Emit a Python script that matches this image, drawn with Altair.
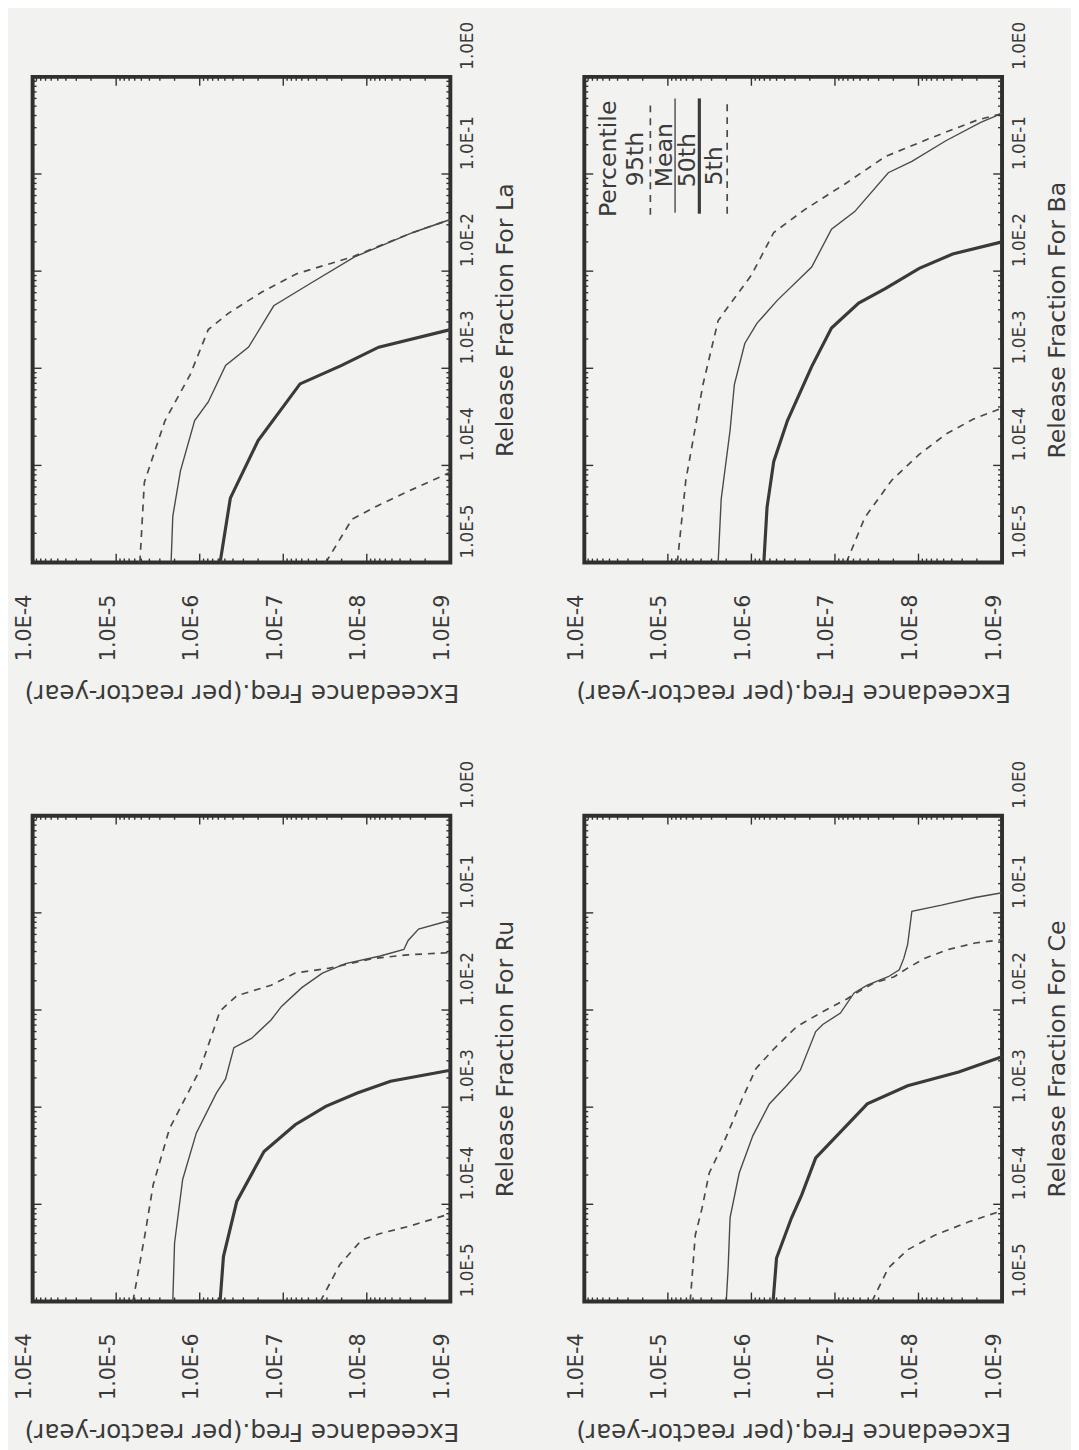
import altair as alt
import pandas as pd

# ---------------- data ----------------
# f = exceedance frequency (per reactor-year), r = release fraction
LA_95_F = [5.2e-6, 4.6e-6, 2.6e-6, 1.3e-6, 7.9e-7, 4.5e-7, 1.8e-7, 6.9e-8, 2.7e-8, 1.5e-8, 2.8e-9, 1.0e-9]
LA_95_R = [1e-5, 6.7e-5, 2.9e-4, 8.6e-4, 2.5e-3, 3.7e-3, 6.1e-3, 9.4e-3, 1.2e-2, 1.4e-2, 2.5e-2, 3.4e-2]
LA_M_F = [2.2e-6, 2.1e-6, 1.7e-6, 1.15e-6, 7.9e-7, 4.9e-7, 2.6e-7, 1.3e-7, 4.7e-8, 1.4e-8, 2.8e-9, 1.0e-9]
LA_M_R = [1e-5, 3.0e-5, 8.8e-5, 2.9e-4, 4.5e-4, 1.07e-3, 1.65e-3, 4.4e-3, 7.5e-3, 1.4e-2, 2.5e-2, 3.4e-2]
LA_50_F = [5.7e-7, 4.3e-7, 2.0e-7, 6.3e-8, 2.0e-8, 7.2e-9, 1.0e-9]
LA_50_R = [1e-5, 4.6e-5, 1.8e-4, 6.9e-4, 1.07e-3, 1.65e-3, 2.5e-3]
LA_5_F = [3.1e-8, 1.5e-8, 7.2e-9, 2.8e-9, 1.0e-9]
LA_5_R = [1e-5, 2.8e-5, 3.9e-5, 5.7e-5, 8.5e-5]

BA_95_F = [7.7e-6, 6.1e-6, 3.8e-6, 2.5e-6, 1.9e-6, 1.0e-6, 5.4e-7, 2.3e-7, 7.6e-8, 2.5e-8, 7.4e-9, 2.0e-9, 1.0e-9]
BA_95_R = [1e-5, 7.0e-5, 6.8e-4, 3.1e-3, 4.3e-3, 9.1e-3, 2.5e-2, 4.3e-2, 7.9e-2, 0.151, 0.232, 0.358, 0.42]
BA_M_F = [2.5e-6, 2.3e-6, 1.8e-6, 1.6e-6, 1.2e-6, 8.6e-7, 4.9e-7, 1.9e-7, 1.1e-7, 5.8e-8, 2.3e-8, 1.2e-8, 4.7e-9, 1.8e-9, 1.0e-9]
BA_M_R = [1e-5, 4.5e-5, 2.3e-4, 6.8e-4, 1.8e-3, 2.9e-3, 5.0e-3, 1.1e-2, 2.7e-2, 4.1e-2, 0.103, 0.135, 0.22, 0.34, 0.42]
BA_50_F = [7.1e-7, 6.5e-7, 5.4e-7, 3.7e-7, 1.9e-7, 1.1e-7, 5.2e-8, 2.5e-8, 9.8e-9, 3.9e-9, 1.0e-9]
BA_50_R = [1e-5, 3.7e-5, 1.1e-4, 2.9e-4, 1.04e-3, 2.6e-3, 4.7e-3, 6.6e-3, 1.07e-2, 1.5e-2, 2.0e-2]
BA_5_F = [7.3e-8, 4.4e-8, 2.1e-8, 9.8e-9, 4.7e-9, 2.2e-9, 1.0e-9]
BA_5_R = [1e-5, 2.9e-5, 7.0e-5, 1.3e-4, 2.1e-4, 3.0e-4, 3.9e-4]

RU_95_F = [6.3e-6, 4.5e-6, 3.6e-6, 2.3e-6, 1.0e-6, 5.7e-7, 3.6e-7, 1.4e-7, 7.2e-8, 2.8e-8, 8.3e-9, 3.2e-9, 1.0e-9]
RU_95_R = [1e-5, 5.0e-5, 1.6e-4, 6.0e-4, 2.4e-3, 9.8e-3, 1.4e-2, 1.8e-2, 2.4e-2, 2.7e-2, 3.4e-2, 3.7e-2, 3.9e-2]
RU_M_F = [2.1e-6, 2.0e-6, 1.6e-6, 1.1e-6, 6.3e-7, 4.9e-7, 3.9e-7, 2.4e-7, 1.4e-7, 1.05e-7, 6.0e-8, 3.4e-8,
          1.8e-8, 6.9e-9, 3.6e-9, 3.2e-9, 2.4e-9, 1.0e-9]
RU_M_R = [1e-5, 4.0e-5, 1.8e-4, 5.4e-4, 1.4e-3, 1.95e-3, 4.1e-3, 5.1e-3, 7.9e-3, 1.09e-2, 1.7e-2, 2.4e-2,
          3.0e-2, 3.6e-2, 4.2e-2, 5.2e-2, 6.8e-2, 8.4e-2]
RU_50_F = [5.7e-7, 5.2e-7, 3.6e-7, 1.7e-7, 7.2e-8, 3.1e-8, 1.3e-8, 5.2e-9, 1.0e-9]
RU_50_R = [1e-5, 2.9e-5, 1.07e-4, 3.5e-4, 6.6e-4, 1.02e-3, 1.4e-3, 1.85e-3, 2.4e-3]
RU_5_F = [3.6e-8, 2.1e-8, 1.15e-8, 6.9e-9, 3.2e-9, 1.0e-9]
RU_5_R = [1e-5, 2.4e-5, 4.3e-5, 5.0e-5, 5.9e-5, 8.0e-5]

CE_95_F = [5.4e-6, 4.7e-6, 3.9e-6, 3.2e-6, 2.2e-6, 1.6e-6, 1.3e-6, 8.8e-7, 5.5e-7, 2.9e-7, 1.5e-7, 7.2e-8,
           4.9e-8, 3.4e-8, 1.95e-8, 1.35e-8, 8.5e-9, 4.4e-9, 2.1e-9, 1.0e-9]
CE_95_R = [1e-5, 4.8e-5, 9.1e-5, 2.1e-4, 4.1e-4, 7.8e-4, 1.2e-3, 2.5e-3, 3.9e-3, 6.7e-3, 9.3e-3, 1.3e-2,
           1.6e-2, 1.9e-2, 2.2e-2, 2.7e-2, 3.4e-2, 4.2e-2, 4.9e-2, 5.3e-2]
CE_M_F = [2.0e-6, 1.9e-6, 1.8e-6, 1.4e-6, 9.6e-7, 6.1e-7, 3.8e-7, 2.6e-7, 1.7e-7, 1.4e-7, 8.6e-8, 5.9e-8,
          4.1e-8, 2.3e-8, 1.7e-8, 1.5e-8, 1.35e-8, 1.2e-8, 5.3e-9, 2.1e-9, 1.0e-9]
CE_M_R = [1e-5, 2.2e-5, 7.3e-5, 2.1e-4, 5.1e-4, 1.08e-3, 1.66e-3, 2.4e-3, 6.0e-3, 7.1e-3, 9.3e-3, 1.5e-2,
          1.8e-2, 2.2e-2, 2.6e-2, 3.4e-2, 4.7e-2, 0.104, 0.12, 0.144, 0.161]
CE_50_F = [5.5e-7, 5.0e-7, 3.3e-7, 2.5e-7, 1.7e-7, 4.1e-8, 1.35e-8, 3.3e-9, 1.0e-9]
CE_50_R = [1e-5, 2.8e-5, 7.3e-5, 1.25e-4, 3.0e-4, 1.08e-3, 1.66e-3, 2.3e-3, 3.3e-3]
CE_5_F = [3.6e-8, 2.3e-8, 1.35e-8, 6.4e-9, 2.5e-9, 1.0e-9]
CE_5_R = [1e-5, 2.2e-5, 3.4e-5, 4.8e-5, 6.6e-5, 8.6e-5]

SERIES = ["95th", "Mean", "50th", "5th"]
ELEMENTS = ["La", "Ba", "Ru", "Ce"]

# legend (drawn inside the Ba panel, placed in data units)
LEG_LABELS = ["Percentile", "95th", "Mean", "50th", "5th"]
LEG_LABEL_F = [5.1e-5, 2.4e-5, 1.08e-5, 5.8e-6, 2.7e-6]
LEG_LABEL_R = [0.036, 0.075, 0.073, 0.073, 0.076]
LEG_LINE_F = [1.62e-5, 8.2e-6, 4.2e-6, 1.95e-6]
LEG_LINE_TOP = [0.53, 0.60, 0.60, 0.53]
LEG_LINE_BOT = [0.038, 0.040, 0.039, 0.039]

# axis ticks
FREQ_MAJOR = [1e-9, 1e-8, 1e-7, 1e-6, 1e-5, 1e-4]
RF_MAJOR = [1e-5, 1e-4, 1e-3, 1e-2, 1e-1, 1.0]
MULTS = [2, 3, 4, 5, 6, 7, 8, 9]
FREQ_MINOR = [m * d for d in FREQ_MAJOR[:-1] for m in MULTS]
RF_MINOR = [m * d for d in RF_MAJOR[:-1] for m in MULTS]

X_TITLE = "Exceedance Freq.(per reactor-year)"
Y_TITLE = "Release Fraction For "

# ---------------- styling ----------------
W, H = 424, 493
FONT = "DejaVu Sans"
INK = "#303030"
TXT = "#3a3a3a"
BG = "#f2f2f0"
STYLE = {
    "95th": dict(strokeDash=[7, 6], strokeWidth=1.7, color="#4a4a4a"),
    "Mean": dict(strokeWidth=1.4, color="#4a4a4a"),
    "50th": dict(strokeWidth=3.2, color="#3a3a3a"),
    "5th": dict(strokeDash=[7, 6], strokeWidth=1.7, color="#4a4a4a"),
}

DATA = {
    "La": {"95th": (LA_95_F, LA_95_R), "Mean": (LA_M_F, LA_M_R), "50th": (LA_50_F, LA_50_R), "5th": (LA_5_F, LA_5_R)},
    "Ba": {"95th": (BA_95_F, BA_95_R), "Mean": (BA_M_F, BA_M_R), "50th": (BA_50_F, BA_50_R), "5th": (BA_5_F, BA_5_R)},
    "Ru": {"95th": (RU_95_F, RU_95_R), "Mean": (RU_M_F, RU_M_R), "50th": (RU_50_F, RU_50_R), "5th": (RU_5_F, RU_5_R)},
    "Ce": {"95th": (CE_95_F, CE_95_R), "Mean": (CE_M_F, CE_M_R), "50th": (CE_50_F, CE_50_R), "5th": (CE_5_F, CE_5_R)},
}

x_scale = alt.Scale(type="log", domain=[1e-9, 1e-4], reverse=True)
y_scale = alt.Scale(type="log", domain=[1e-5, 1.0])
LABEL_EXPR = "'1.0E' + round(log(datum.value) / LN10)"


def axes_for(elem):
    x_axis = alt.Axis(
        orient="bottom", values=FREQ_MAJOR, labelExpr=LABEL_EXPR,
        labelAngle=270, labelAlign="right", labelBaseline="middle",
        labelPadding=32, labelOffset=-8, labelFontSize=21, labelColor=TXT,
        labelFlush=False, labelOverlap=False, ticks=False, domain=False, grid=False,
        title=X_TITLE, titleAngle=180, titleBaseline="bottom", titleAlign="center",
        titleAnchor="middle", titlePadding=19, titleFontSize=25, titleFontWeight="normal",
        titleColor=TXT)
    y_axis = alt.Axis(
        orient="right", values=RF_MAJOR, labelExpr=LABEL_EXPR,
        labelAngle=270, labelAlign="center", labelBaseline="middle",
        labelPadding=18, labelOffset=-32, labelFontSize=17, labelColor=TXT,
        labelFlush=False, labelOverlap=False, ticks=False, domain=False, grid=False,
        title=Y_TITLE + elem, titleAngle=270, titleBaseline="top", titleAlign="center",
        titleAnchor="middle", titlePadding=18, titleFontSize=24, titleFontWeight="normal",
        titleColor=TXT)
    return x_axis, y_axis


def tick_layers(x_axis, y_axis):
    layers = []
    for vals, ln in ((FREQ_MAJOR, 9), (FREQ_MINOR, 4)):
        src = alt.Chart(pd.DataFrame({"v": vals}))
        for y0, y1 in ((H, H - ln), (0, ln)):
            layers.append(src.mark_rule(color=INK, strokeWidth=1.4).encode(
                x=alt.X("v:Q", scale=x_scale, axis=x_axis),
                y=alt.value(y0), y2=alt.value(y1)))
    for vals, ln in ((RF_MAJOR, 9), (RF_MINOR, 4)):
        src = alt.Chart(pd.DataFrame({"v": vals}))
        for x0, x1 in ((W, W - ln), (0, ln)):
            layers.append(src.mark_rule(color=INK, strokeWidth=1.4).encode(
                y=alt.Y("v:Q", scale=y_scale, axis=y_axis),
                x=alt.value(x0), x2=alt.value(x1)))
    return layers


def make_panel(elem, legend=False):
    x_axis, y_axis = axes_for(elem)
    layers = []
    for name in SERIES:
        f, r = DATA[elem][name]
        df = pd.DataFrame({"f": f, "r": r, "i": list(range(len(f)))})
        layers.append(alt.Chart(df).mark_line(strokeCap="butt", **STYLE[name]).encode(
            x=alt.X("f:Q", scale=x_scale, axis=x_axis),
            y=alt.Y("r:Q", scale=y_scale, axis=y_axis),
            order="i:Q"))
    layers += tick_layers(x_axis, y_axis)

    if legend:
        ldf = pd.DataFrame({"t": LEG_LABELS, "f": LEG_LABEL_F, "r": LEG_LABEL_R})
        layers.append(alt.Chart(ldf).mark_text(
            angle=270, align="left", baseline="middle", fontSize=24, font=FONT, color=TXT).encode(
            x=alt.X("f:Q", scale=x_scale, axis=x_axis),
            y=alt.Y("r:Q", scale=y_scale, axis=y_axis),
            text="t:N"))
        for k, name in enumerate(SERIES):
            seg = pd.DataFrame({"f": [LEG_LINE_F[k]], "r1": [LEG_LINE_BOT[k]], "r2": [LEG_LINE_TOP[k]]})
            layers.append(alt.Chart(seg).mark_rule(**STYLE[name]).encode(
                x=alt.X("f:Q", scale=x_scale, axis=x_axis),
                y=alt.Y("r1:Q", scale=y_scale, axis=y_axis),
                y2="r2:Q"))

    return alt.layer(*layers).properties(width=W, height=H)


chart = alt.concat(
    make_panel("La"), make_panel("Ba", legend=True),
    make_panel("Ru"), make_panel("Ce"),
    columns=2, spacing={"row": 52, "column": 45},
).properties(
    padding={"left": 4, "top": 0, "right": 0, "bottom": 0},
    background=BG,
).configure_view(
    stroke=INK, strokeWidth=4
).configure_axis(
    labelFont=FONT, titleFont=FONT
).configure_text(font=FONT)

chart.save("out.html", embed_options={"renderer": "svg", "actions": False})
